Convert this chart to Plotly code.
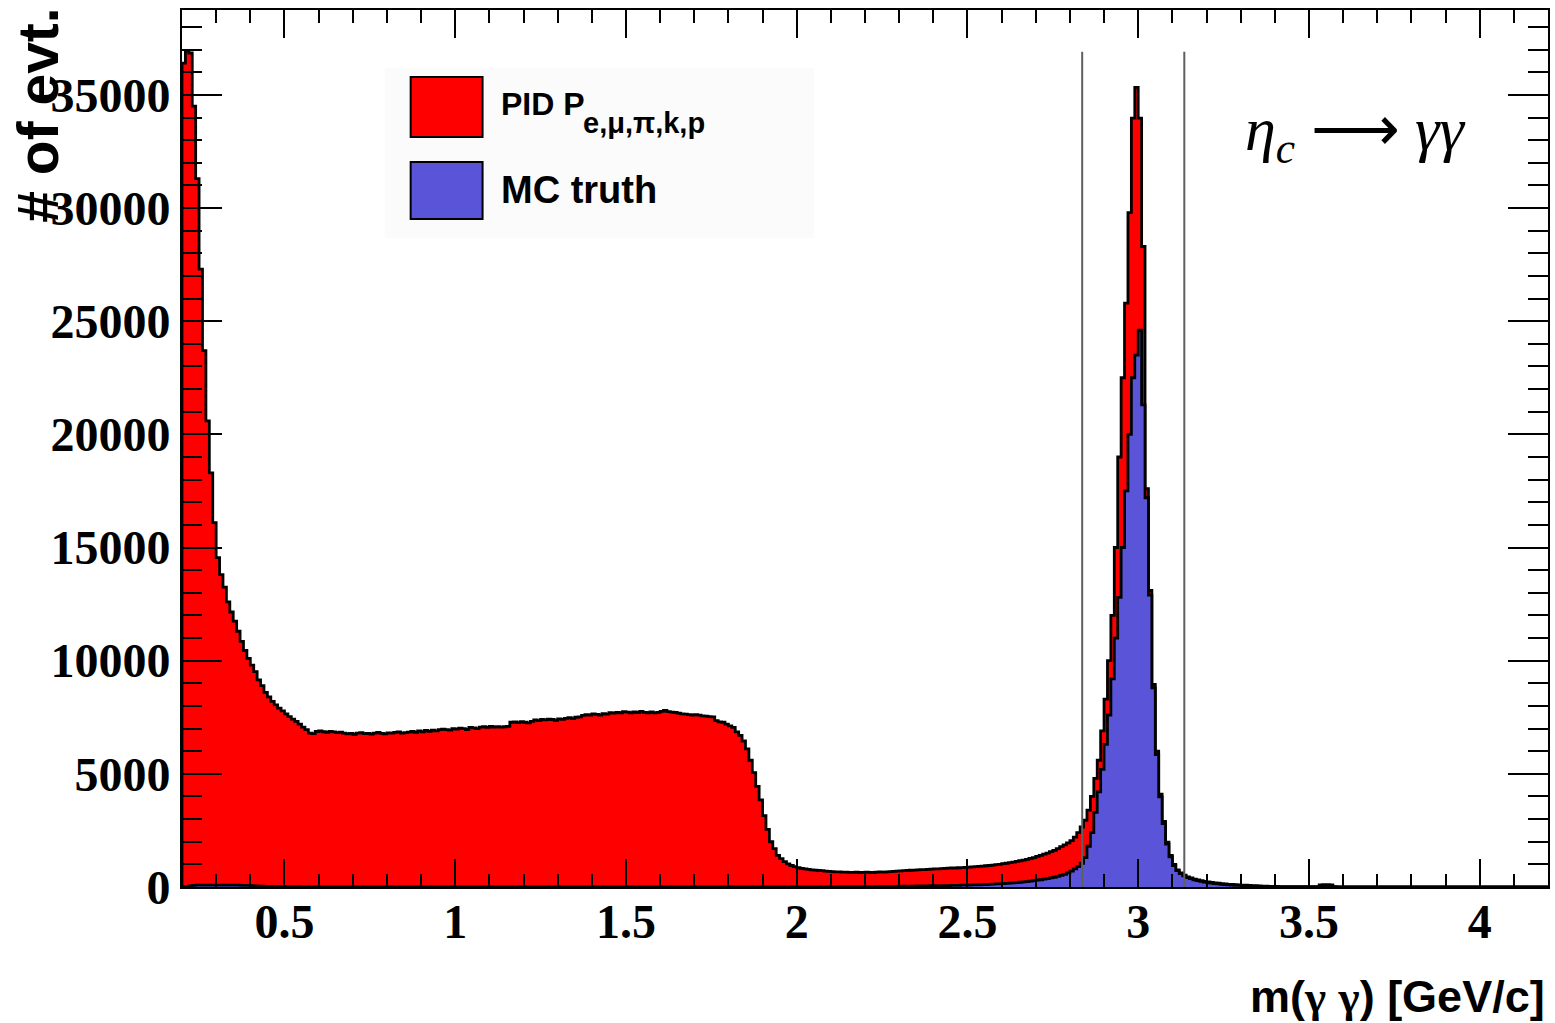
import plotly.graph_objects as go

# ---------------- data (bin contents, 0.01 GeV bins from 0.20 to 4.20) ----------------
bin_lo = 0.2
bin_w = 0.01

red_counts = [
    36400, 36950, 36850, 34500, 31300, 27300, 23700, 20600, 18300, 16100,   # 0.20
    14550, 13800, 13250, 12600, 12150, 11750, 11300, 10850, 10450, 10100,   # 0.30
    9800, 9520, 9150, 8900, 8600, 8400, 8200, 8050, 7900, 7780,             # 0.40
    7650, 7530, 7420, 7320, 7200, 7060, 6950, 6800, 6780, 6870,             # 0.50
    6900, 6860, 6830, 6880, 6850, 6820, 6840, 6800, 6770, 6790,             # 0.60
    6750, 6800, 6820, 6780, 6790, 6760, 6800, 6830, 6790, 6770,             # 0.70
    6810, 6800, 6830, 6850, 6800, 6820, 6840, 6870, 6830, 6900,             # 0.80
    6860, 6920, 6880, 6930, 6900, 6950, 6980, 6950, 6930, 7000,             # 0.90
    6980, 7020, 7000, 6960, 7050, 7030, 7000, 7060, 7080, 7050,             # 1.00
    7100, 7070, 7090, 7060, 7080, 7100, 7280, 7300, 7260, 7310,             # 1.10
    7280, 7250, 7320, 7380, 7350, 7400, 7380, 7420, 7400, 7360,             # 1.20
    7430, 7410, 7450, 7480, 7440, 7500, 7520, 7580, 7620, 7600,             # 1.30
    7650, 7630, 7600, 7660, 7640, 7700, 7680, 7720, 7700, 7750,             # 1.40
    7730, 7700, 7740, 7710, 7760, 7720, 7700, 7740, 7690, 7720,             # 1.50
    7760, 7800, 7750, 7730, 7710, 7680, 7650, 7640, 7620, 7600,             # 1.60
    7620, 7590, 7560, 7550, 7530, 7520, 7350, 7300, 7280, 7200,             # 1.70
    7120, 7050, 6850, 6700, 6450, 6100, 5600, 5050, 4450, 3850,             # 1.80
    3150, 2550, 2000, 1700, 1400, 1250, 1120, 1020, 950, 900,               # 1.90
    850, 820, 800, 780, 760, 750, 730, 720, 700, 690,                       # 2.00
    680, 670, 670, 660, 660, 650, 650, 660, 640, 650,                       # 2.10
    660, 650, 640, 660, 670, 660, 670, 680, 690, 700,                       # 2.20
    710, 720, 730, 740, 745, 760, 770, 770, 780, 790,                       # 2.30
    800, 800, 810, 820, 830, 840, 840, 850, 860, 870,                       # 2.40
    880, 890, 900, 910, 920, 940, 950, 970, 990, 1000,                      # 2.50
    1030, 1050, 1080, 1100, 1130, 1160, 1190, 1220, 1260, 1300,             # 2.60
    1350, 1400, 1450, 1500, 1560, 1620, 1700, 1780, 1860, 1950,             # 2.70
    2050, 2200, 2400, 2650, 2950, 3400, 4000, 4800, 5600, 6900,             # 2.80
    8300, 10000, 12000, 15000, 19000, 22500, 25800, 29800, 33970, 35330,    # 2.90
    33970, 28300, 17600, 13100, 8950, 6000, 4100, 2900, 1980, 1400,         # 3.00
    1000, 760, 620, 520, 450, 400, 350, 310, 280, 250,                      # 3.10
    220, 200, 180, 165, 150, 135, 120, 110, 100, 92,                        # 3.20
    85, 78, 70, 62, 55, 48, 42, 36, 30, 26,                                 # 3.30
    22, 20, 18, 16, 15, 14, 13, 12, 12, 11,                                 # 3.40
    10, 10, 10, 90, 100, 100, 90, 10, 9, 8,                                 # 3.50
    8, 7, 7, 6, 6, 6, 5, 5, 5, 5,                                           # 3.60
    4, 4, 4, 4, 3, 3, 3, 3, 3, 3,                                           # 3.70
    2, 2, 2, 2, 2, 2, 2, 2, 2, 2,                                           # 3.80
    1, 1, 1, 1, 1, 1, 1, 1, 1, 1,                                           # 3.90
    1, 1, 1, 1, 1, 1, 1, 1, 1, 1,                                           # 4.00
    1, 1, 1, 1, 1, 1, 1, 1, 1, 1,                                           # 4.10
]

blue_counts = [
    0, 20, 50, 70, 80, 85, 85, 85, 85, 85,                                  # 0.20
    85, 85, 85, 85, 80, 80, 80, 75, 75, 70,                                 # 0.30
    60, 50, 40, 35, 30, 30, 25, 25, 20, 20,                                 # 0.40
    15, 15, 10, 10, 10, 5, 5, 5, 5, 5,                                      # 0.50
    0, 0, 0, 0, 0, 0, 0, 0, 0, 0,                                           # 0.60
    0, 0, 0, 0, 0, 0, 0, 0, 0, 0,                                           # 0.70
    0, 0, 0, 0, 0, 0, 0, 0, 0, 0,                                           # 0.80
    0, 0, 0, 0, 0, 0, 0, 0, 0, 0,                                           # 0.90
    0, 0, 0, 0, 0, 0, 0, 0, 0, 0,                                           # 1.00
    0, 0, 0, 0, 0, 0, 0, 0, 0, 0,                                           # 1.10
    0, 0, 0, 0, 0, 0, 0, 0, 0, 0,                                           # 1.20
    0, 0, 0, 0, 0, 0, 0, 0, 0, 0,                                           # 1.30
    0, 0, 0, 0, 0, 0, 0, 0, 0, 0,                                           # 1.40
    0, 0, 0, 0, 0, 0, 0, 0, 0, 0,                                           # 1.50
    0, 0, 0, 0, 0, 0, 0, 0, 0, 0,                                           # 1.60
    0, 0, 0, 0, 0, 0, 0, 0, 0, 0,                                           # 1.70
    0, 0, 0, 0, 0, 0, 0, 0, 0, 0,                                           # 1.80
    0, 0, 0, 0, 0, 0, 0, 0, 0, 0,                                           # 1.90
    0, 0, 0, 0, 0, 5, 5, 5, 5, 5,                                           # 2.00
    5, 5, 10, 10, 10, 10, 10, 15, 15, 15,                                   # 2.10
    15, 20, 20, 20, 25, 25, 25, 30, 30, 30,                                 # 2.20
    35, 35, 40, 40, 40, 45, 45, 50, 50, 55,                                 # 2.30
    55, 60, 60, 65, 65, 70, 70, 75, 80, 80,                                 # 2.40
    85, 90, 95, 100, 105, 110, 120, 125, 135, 140,                          # 2.50
    150, 160, 170, 180, 195, 210, 225, 240, 260, 280,                       # 2.60
    300, 320, 345, 370, 400, 430, 470, 510, 560, 620,                       # 2.70
    700, 800, 900, 1050, 1300, 1800, 2400, 3300, 4200, 5200,                # 2.80
    6300, 7600, 9200, 11000, 12800, 15000, 17500, 20000, 22500, 23500,      # 2.90
    24600, 21300, 17200, 12900, 8800, 5850, 3980, 2800, 1900, 1330,         # 3.00
    950, 720, 590, 490, 420, 370, 320, 280, 250, 220,                       # 3.10
    190, 170, 150, 135, 120, 105, 95, 85, 75, 68,                           # 3.20
    60, 52, 45, 38, 32, 26, 20, 15, 12, 9,                                  # 3.30
    6, 4, 3, 2, 1, 0, 0, 0, 0, 0,                                           # 3.40
    0, 0, 0, 0, 0, 0, 0, 0, 0, 0,                                           # 3.50
    0, 0, 0, 0, 0, 0, 0, 0, 0, 0,                                           # 3.60
    0, 0, 0, 0, 0, 0, 0, 0, 0, 0,                                           # 3.70
    0, 0, 0, 0, 0, 0, 0, 0, 0, 0,                                           # 3.80
    0, 0, 0, 0, 0, 0, 0, 0, 0, 0,                                           # 3.90
    0, 0, 0, 0, 0, 0, 0, 0, 0, 0,                                           # 4.00
    0, 0, 0, 0, 0, 0, 0, 0, 0, 0,                                           # 4.10
]

x_tick_vals = [0.5, 1, 1.5, 2, 2.5, 3, 3.5, 4]
y_tick_vals = [0, 5000, 10000, 15000, 20000, 25000, 30000, 35000]
x_range = [0.2, 4.2]
y_range = [0, 38750]
cut_lines = [2.836, 3.135]
cut_top = 36900

series_names = ["PID P", "MC truth"]
sub_label = "e,μ,π,k,p"
y_title = "# of evt."

RED = "#FF0000"
BLUE = "#5A55D8"


def step_xy(counts):
    n = len(counts)
    edges = [bin_lo + bin_w * i for i in range(n + 1)]
    xs = [edges[0]] + edges[:n] + [edges[n], edges[n]]
    ys = [0] + list(counts) + [counts[-1], 0]
    return xs, ys


fig = go.Figure()
for counts, color, name in [(red_counts, RED, series_names[0]), (blue_counts, BLUE, series_names[1])]:
    xs, ys = step_xy(counts)
    fig.add_trace(go.Scatter(
        x=xs, y=ys, mode="lines", line=dict(shape="hv", color="black", width=2.8),
        fill="tozeroy", fillcolor=color, name=name, showlegend=False, hoverinfo="skip"))

# ---------------- layout geometry (pixels) ----------------
W, H = 1555, 1023
PL, PR, PT, PB = 182, 1550, 10, 887


def px(xp):
    return (xp - PL) / (PR - PL)


def py(yp):
    return (PB - yp) / (PB - PT)


shapes = []
for xc in cut_lines:
    shapes.append(dict(type="line", xref="x", yref="y", x0=xc, x1=xc, y0=0, y1=cut_top,
                       line=dict(color="#5f5f5f", width=2), layer="above"))

# legend (drawn manually)
shapes.append(dict(type="rect", xref="paper", yref="paper", x0=px(385), x1=px(815), y0=py(238), y1=py(68),
                   fillcolor="#fbfbfb", line=dict(width=0), layer="below"))
shapes.append(dict(type="rect", xref="paper", yref="paper", x0=px(411), x1=px(483), y0=py(137), y1=py(77),
                   fillcolor=RED, line=dict(color="black", width=2), layer="above"))
shapes.append(dict(type="rect", xref="paper", yref="paper", x0=px(411), x1=px(483), y0=py(219), y1=py(162),
                   fillcolor=BLUE, line=dict(color="black", width=2), layer="above"))

SANS = "Liberation Sans, Arial"
SERIF = "Liberation Serif, Times New Roman"
gamma = "<span style='font-family:Liberation Serif'>γ</span>"
x_title = "m(" + gamma + " " + gamma + ") [GeV/c]"

annotations = [
    dict(xref="paper", yref="paper", x=px(499), y=py(104), xanchor="left", yanchor="middle",
         text=series_names[0], showarrow=False,
         font=dict(family=SANS, size=32, color="black", weight="bold")),
    dict(xref="paper", yref="paper", x=px(582), y=py(123), xanchor="left", yanchor="middle",
         text=sub_label, showarrow=False,
         font=dict(family=SANS, size=29, color="black", weight="bold")),
    dict(xref="paper", yref="paper", x=px(499), y=py(190), xanchor="left", yanchor="middle",
         text=series_names[1], showarrow=False,
         font=dict(family=SANS, size=38, color="black", weight="bold")),
    dict(xref="paper", yref="paper", x=px(1245), y=py(134), xanchor="left", yanchor="middle",
         text="<i>η</i><sub><i>c</i></sub> ⟶ <i>γγ</i>", showarrow=False,
         font=dict(family=SERIF, size=62, color="black")),
    dict(xref="paper", yref="paper", x=px(1549), y=py(996), xanchor="right", yanchor="middle",
         text=x_title, showarrow=False,
         font=dict(family=SANS, size=45, color="black", weight="bold")),
    dict(xref="paper", yref="paper", x=px(38), y=py(6), xanchor="center", yanchor="top",
         text=y_title, textangle=-90, showarrow=False,
         font=dict(family=SANS, size=57, color="black", weight="bold")),
]

tick_font = dict(family=SERIF, size=48, color="black", weight="bold")

fig.update_layout(
    width=W, height=H,
    margin=dict(l=PL, r=W - PR, t=PT, b=H - PB),
    paper_bgcolor="white", plot_bgcolor="white",
    showlegend=False,
    shapes=shapes, annotations=annotations,
    xaxis=dict(range=x_range, tickmode="array", tickvals=x_tick_vals,
               ticks="inside", ticklen=28, tickwidth=2, tickcolor="black",
               minor=dict(tickmode="linear", tick0=0, dtick=0.1, ticks="inside", ticklen=13,
                          tickwidth=2, tickcolor="black"),
               showline=True, linecolor="black", linewidth=2, mirror="ticks",
               showgrid=False, zeroline=False, tickfont=tick_font, ticklabelstandoff=-9),
    yaxis=dict(range=y_range, tickmode="array", tickvals=y_tick_vals, tickformat="d",
               ticks="inside", ticklen=40, tickwidth=2, tickcolor="black",
               minor=dict(tickmode="linear", tick0=0, dtick=1000, ticks="inside", ticklen=20,
                          tickwidth=2, tickcolor="black"),
               showline=True, linecolor="black", linewidth=2, mirror="ticks",
               showgrid=False, zeroline=False, tickfont=tick_font, ticklabelstandoff=0),
)

fig.write_html("out.html")
